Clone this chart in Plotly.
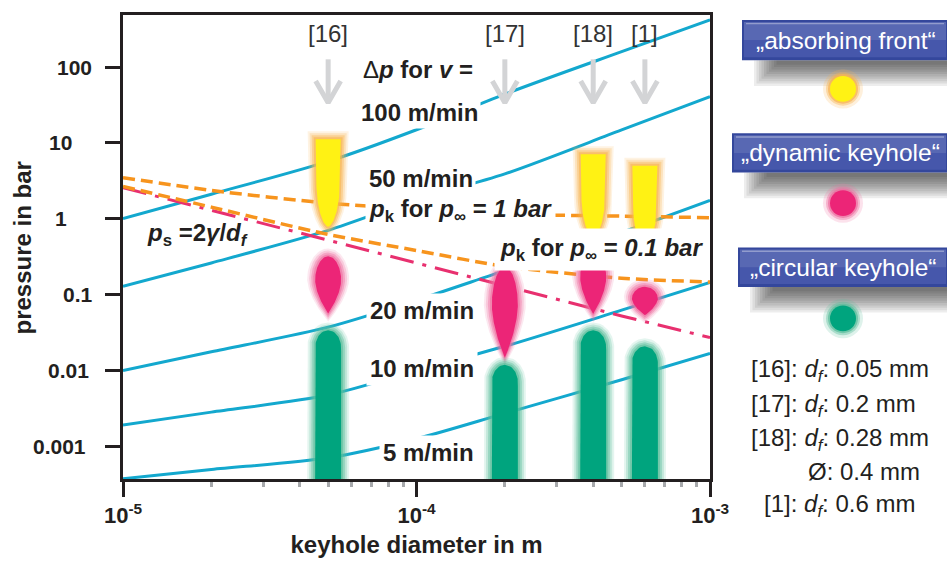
import math
import numpy as np
import plotly.graph_objects as go

# ---------------- data ----------------
diameter_m = [1e-5, 2e-5, 5e-5, 1e-4, 2e-4, 5e-4, 1e-3]
dp_100 = [1.0, 2.1, 5.7, 14.9, 44.0, 160.0, 420.0]
dp_50 = [0.128, 0.26, 0.70, 1.78, 3.9, 14.8, 40.6]
dp_20 = [0.0099, 0.0175, 0.037, 0.084, 0.206, 0.66, 1.74]
dp_10 = [0.0019, 0.0028, 0.0047, 0.0099, 0.0207, 0.062, 0.144]
dp_5 = [0.00037, 0.00049, 0.0007, 0.00125, 0.0027, 0.0075, 0.0166]
speed_labels = ["100 m/min", "50 m/min", "20 m/min", "10 m/min", "5 m/min"]

pk_1bar = [3.48, 2.36, 1.6, 1.34, 1.15, 1.08, 1.03]
pk_01bar = [2.66, 1.42, 0.62, 0.38, 0.235, 0.164, 0.146]
ps_surface = [2.56, 1.3, 0.52, 0.26, 0.13, 0.052, 0.027]

sources = ["[16]", "[17]", "[18]", "[1]"]
source_d = [5e-5, 2e-4, 4e-4, 6e-4]
front_top = [11.2, None, 7.1, 5.0]
front_bot = [0.78, None, 0.56, 0.42]
dyn_top = [0.318, 0.229, 0.37, 0.126]
dyn_bot = [0.056, 0.0146, 0.055, 0.053]
circ_top = [0.0336, 0.0118, 0.0336, 0.0208]
circ_bot = [3.6e-4, 3.6e-4, 3.6e-4, 3.6e-4]

regime_names = ["\u201eabsorbing front\u201c", "\u201edynamic keyhole\u201c", "\u201ecircular keyhole\u201c"]
source_info = [
    "[16]: <i>d<sub>f</sub></i>: 0.05 mm",
    "[17]: <i>d<sub>f</sub></i>: 0.2 mm",
    "[18]: <i>d<sub>f</sub></i>: 0.28 mm",
    "\u00d8: 0.4 mm",
    "[1]: <i>d<sub>f</sub></i>: 0.6 mm",
]

tick_y = [0.001, 0.01, 0.1, 1, 10, 100]
tick_y_text = ["0.001", "0.01", "0.1", "1", "10", "100"]
tick_x = [1e-5, 1e-4, 1e-3]
tick_x_text = ["10<sup>-5</sup>", "10<sup>-4</sup>", "10<sup>-3</sup>"]

# ---------------- layout constants ----------------
W, H = 947, 566
ML, MR, MT, MB = 123, 237, 12, 83
PW, PH = W - ML - MR, H - MT - MB
XR = [-5.0, -3.0]
YR = [-3.435, 2.687]
XPD = PW / (XR[1] - XR[0])
YPD = PH / (YR[1] - YR[0])
FONT = "Liberation Sans, Arial, Helvetica, sans-serif"
INK = "#231f20"

CYAN = "#13A8CE"
ORANGE = "#F7941D"
PINKLINE = "#E8306F"
ARROW = "#D3D4D6"
COL = {
    "front": ("#FFF214", "rgba(248,180,80,%s)"),
    "dyn": ("#EC2577", "rgba(238,110,160,%s)"),
    "circ": ("#00A47E", "rgba(90,190,155,%s)"),
}
# horizontal centres (px) of the hand-placed y tick labels, in tick_y order
YLABEL_CX = [59, 68, 77.5, 61, 60, 74.5]


def pxx(px):
    return (px - ML) / PW


def pxy(py):
    return (H - MB - py) / PH


def ly_of_py(py):
    return YR[1] - (py - MT) / YPD


def blob_polygon(d, top, bot, kind, hw_px, pad):
    cx = math.log10(d)
    lt = math.log10(top) + pad / YPD
    lb = math.log10(bot) - pad / YPD
    hpx = (lt - lb) * YPD
    t = np.linspace(0, 1, 120)
    if kind == "front":
        k = 0.5
        w = np.where(t < k, 1.0 - 0.06 * t / k,
                     0.94 * np.clip(1 - ((t - k) / (1 - k)) ** 2, 0, 1) ** 0.6)
    elif kind == "dyn":
        tm = 0.42
        up = np.sqrt(np.clip(1 - ((tm - t) / tm) ** 2, 0, 1))
        lo = 1 - np.clip((t - tm) / (1 - tm), 0, 1) ** 1.7
        w = np.where(t < tm, up, lo)
    else:
        cap = min(0.45, (18.0 + pad) / hpx)
        w = np.where(t < cap, np.sqrt(np.clip(1 - ((cap - t) / cap) ** 2, 0, 1)), 1.0)
    hw = hw_px + pad
    ly = lt - t * (lt - lb)
    xr = cx + w * hw / XPD
    xl = cx - w * hw / XPD
    xs = np.concatenate([xr, xl[::-1], xr[:1]])
    ys = np.concatenate([ly, ly[::-1], ly[:1]])
    return 10 ** xs, 10 ** ys


fig = go.Figure()

# cyan pressure-difference curves
for series in [dp_100, dp_50, dp_20, dp_10, dp_5]:
    fig.add_trace(go.Scatter(x=diameter_m, y=series, mode="lines",
                             line=dict(color=CYAN, width=3, shape="spline", smoothing=0.8),
                             hoverinfo="skip"))

# surface pressure (dash-dot)
fig.add_trace(go.Scatter(x=diameter_m, y=ps_surface, mode="lines",
                         line=dict(color=PINKLINE, width=3, dash="24px,9px,4px,9px"),
                         hoverinfo="skip"))
# keyhole pressures (dashed)
for series in [pk_1bar, pk_01bar]:
    fig.add_trace(go.Scatter(x=diameter_m, y=series, mode="lines",
                             line=dict(color=ORANGE, width=3.5, dash="12px,6px", shape="spline", smoothing=0.8),
                             hoverinfo="skip"))

# arrows for the literature sources
ax, ay = [], []
y_top = 10 ** ly_of_py(57)
y_tip = 10 ** ly_of_py(101)
y_arm = 10 ** ly_of_py(79)
dx = 12.5 / XPD
for d in source_d:
    ax += [d, d, None, d * 10 ** (-dx), d, d * 10 ** dx, None]
    ay += [y_top, y_tip, None, y_arm, y_tip, y_arm, None]
fig.add_trace(go.Scatter(x=ax, y=ay, mode="lines", line=dict(color=ARROW, width=5),
                         hoverinfo="skip"))

# regime blobs
regimes = [("front", front_top, front_bot, 12.5),
           ("dyn", dyn_top, dyn_bot, 13.0),
           ("circ", circ_top, circ_bot, 13.0)]
for kind, tops, bots, hw in regimes:
    core, glow = COL[kind]
    for d, tp, bt in zip(source_d, tops, bots):
        if tp is None:
            continue
        for pad, alpha in [(8, "0.16"), (6, "0.25"), (4, "0.4"), (2, "0.6")]:
            xs, ys = blob_polygon(d, tp, bt, kind, hw, pad)
            fig.add_trace(go.Scatter(x=xs, y=ys, mode="lines", fill="toself",
                                     fillcolor=glow % alpha, line=dict(width=0),
                                     hoverinfo="skip"))
        xs, ys = blob_polygon(d, tp, bt, kind, hw, 0)
        fig.add_trace(go.Scatter(x=xs, y=ys, mode="lines", fill="toself",
                                 fillcolor=core, line=dict(width=0), hoverinfo="skip"))

annotations = []


def ann(text, px, py, size=24, xanchor="left", bg=None, color=INK, pad=2, angle=0):
    annotations.append(dict(text=text, x=pxx(px), y=pxy(py), xref="paper", yref="paper",
                            xanchor=xanchor, yanchor="middle", showarrow=False, textangle=angle,
                            font=dict(family=FONT, size=size, color=color),
                            bgcolor=bg if bg else "rgba(0,0,0,0)", borderpad=pad))


# y tick labels (hand placed in the original)
for v, txt, cxp in zip(tick_y, tick_y_text, YLABEL_CX):
    annotations.append(dict(text="<b>%s</b>" % txt, x=pxx(cxp), y=math.log10(v),
                            xref="paper", yref="y", xanchor="center", yanchor="middle",
                            showarrow=False, font=dict(family=FONT, size=21, color=INK)))
# y axis title
ann("<b>pressure in bar</b>", 22, 249, size=24, xanchor="center", angle=-90)

# source labels above arrows
for name, d in zip(sources, source_d):
    annotations.append(dict(text=name, x=math.log10(d), y=pxy(31), xref="x", yref="paper",
                            xanchor="center", yanchor="middle", showarrow=False,
                            font=dict(family=FONT, size=24, color="#333333")))

ann("\u0394<b><i>p</i> for <i>v</i> =</b>", 360, 67)
ann("<b>" + speed_labels[0] + "</b>", 358, 111, bg="white")
ann("<b>" + speed_labels[1] + "</b>", 366, 178, bg="white")
ann("<b><i>p</i><sub>k</sub> for <i>p</i><sub>\u221e</sub> = <i>1 bar</i></b>", 365, 210, bg="white", pad=3)
ann("<b><i>p</i><sub>k</sub> for <i>p</i><sub>\u221e</sub> = <i>0.1 bar</i></b>", 494, 250, bg="white", pad=5)
ann("<b>" + speed_labels[2] + "</b>", 366, 312, bg="white", pad=3)
ann("<b>" + speed_labels[3] + "</b>", 366, 371, bg="white", pad=3)
ann("<b>" + speed_labels[4] + "</b>", 379, 456, bg="white", pad=3)
ann("<b><i>p</i><sub>s</sub> =2<i>\u03b3</i>/<i>d<sub>f</sub></i></b>", 144, 235)

# right-hand panel
shapes = []


def rect(x0, y0, x1, y1, fill):
    shapes.append(dict(type="rect", xref="paper", yref="paper", x0=pxx(x0), x1=pxx(x1),
                       y0=pxy(y1), y1=pxy(y0), fillcolor=fill, line=dict(width=0), layer="above"))


def circle(cx, cy, r, fill):
    shapes.append(dict(type="circle", xref="paper", yref="paper", x0=pxx(cx - r), x1=pxx(cx + r),
                       y0=pxy(cy + r), y1=pxy(cy - r), fillcolor=fill, line=dict(width=0), layer="above"))


buttons = [(742, 17, 947, 58), (732, 132, 947, 172), (738, 248, 947, 288)]
dots = [(843, 87), (843, 203), (843, 320)]
kinds = ["front", "dyn", "circ"]
for (x0, y0, x1, y1), name, (cx, cy), kind in zip(buttons, regime_names, dots, kinds):
    # soft shadow
    for k in range(10):
        rect(x0 + 12 + 2.5 * k, y1, x1, y1 + 26 - 2.4 * k, "rgba(0,0,0,0.07)")
    rect(x0, y0, x1, y1, "#34479C")
    rect(x0 + 2, y0 + 2, x1 - 1, y1 - 3, "#4657AB")
    rect(x0 + 2, y0 + 2, x1 - 1, (y0 + y1) / 2, "rgba(255,255,255,0.10)")
    rect(x0 + 4, y0 + 3, x1 - 3, y0 + 4.5, "rgba(255,255,255,0.35)")
    ann(name, (x0 + x1) / 2 + 1, (y0 + y1) / 2, size=24.5, xanchor="center", color="white")
    core, glow = COL[kind]
    circle(cx, cy, 20, glow % "0.2")
    circle(cx, cy, 17, glow % "0.4")
    circle(cx, cy, 15, glow % "0.7")
    circle(cx, cy, 13, core)

info_pos = [(748, 373), (748, 408), (748, 443), (805, 475), (761, 510)]
for txt, (px, py) in zip(source_info, info_pos):
    ann(txt, px, py, size=24, color="#231f20")

minor_x = [m * 10.0 ** e for e in (-5, -4) for m in range(2, 10)]

fig.update_layout(
    width=W, height=H, autosize=False,
    margin=dict(l=ML, r=MR, t=MT, b=MB, pad=0),
    paper_bgcolor="white", plot_bgcolor="white",
    showlegend=False,
    font=dict(family=FONT, color=INK),
    annotations=annotations,
    shapes=shapes,
    xaxis=dict(type="log", range=XR, showline=True, linecolor=INK, linewidth=3, mirror=True,
               ticks="outside", ticklen=15, tickwidth=3, tickcolor=INK,
               tickvals=tick_x, ticktext=["<b>%s</b>" % t for t in tick_x_text],
               tickfont=dict(family=FONT, size=22, color=INK),
               showgrid=False, zeroline=False,
               minor=dict(ticks="outside", ticklen=5, tickwidth=3, tickcolor="#A7A9AC",
                          tickvals=minor_x, showgrid=False),
               title=dict(text="<b>keyhole diameter in m</b>", font=dict(family=FONT, size=24, color=INK),
                          standoff=9)),
    yaxis=dict(type="log", range=YR, showline=True, linecolor=INK, linewidth=3, mirror=True,
               ticks="outside", ticklen=15, tickwidth=3, tickcolor=INK,
               tickvals=tick_y, showticklabels=False,
               showgrid=False, zeroline=False),
)

fig.write_html("out.html", config={"displayModeBar": False},
               post_script="document.body.style.margin='0px';document.body.style.overflow='hidden';")
